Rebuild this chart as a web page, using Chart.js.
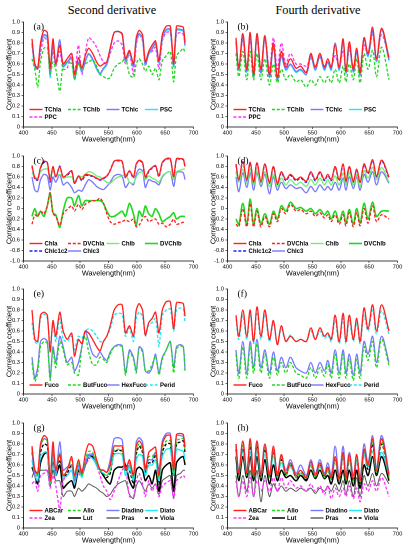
<!DOCTYPE html>
<html>
<head>
<meta charset="utf-8">
<script src="https://cdn.jsdelivr.net/npm/chart.js@4.4.1/dist/chart.umd.min.js"></script>
<style>
  body { margin: 0; background: #fff; width: 408px; height: 550px; position: relative; overflow: hidden; }
  .head { position: absolute; top: 3px; width: 204px; text-align: center; font: 12.3px "Liberation Serif", "Times New Roman", serif; color: #000; }
  canvas { position: absolute; }
</style>
</head>
<body>
<div class="head" style="left:10px">Second derivative</div>
<div class="head" style="left:216px">Fourth derivative</div>
<script>
// wavelengths (nm)
const wl2 = [415, 420, 425, 430, 436, 442, 447, 452, 457, 464, 470, 477, 485, 490, 497, 503, 509, 515, 522, 529, 535, 541, 547, 553, 560, 567, 574, 580, 587, 594, 599, 604, 610, 615, 621, 627, 633, 639, 645, 652, 659, 665, 670, 677, 682, 685];
const wl4 = [415, 420, 427, 434, 440, 446, 452, 459, 466, 474, 481, 488, 495, 503, 511, 521, 529, 539, 547, 555, 563, 571, 577, 583, 590, 597, 604, 609, 615, 622, 628, 634, 641, 648, 656, 663, 672, 685];

const xTickVals = [400, 450, 500, 550, 600, 650, 700];
const yTicksPos = [0, 0.1, 0.2, 0.3, 0.4, 0.5, 0.6, 0.7, 0.8, 0.9, 1];
const yTicksSigned = [-1, -0.8, -0.6, -0.4, -0.2, 0, 0.2, 0.4, 0.6, 0.8, 1];

// (a) second derivative, total pigments
const aTChla = [0.84,0.6,0.56,0.8,0.92,0.9,0.56,0.84,0.6,0.78,0.6,0.65,0.7,0.5,0.66,0.56,0.68,0.75,0.7,0.62,0.58,0.6,0.62,0.75,0.9,0.91,0.89,0.65,0.73,0.6,0.85,0.92,0.88,0.62,0.72,0.78,0.82,0.63,0.88,0.96,0.96,0.6,0.96,0.96,0.95,0.8];
const aTChlb = [0.65,0.55,0.38,0.62,0.75,0.76,0.5,0.62,0.55,0.34,0.6,0.62,0.6,0.45,0.6,0.55,0.6,0.62,0.64,0.58,0.5,0.48,0.46,0.47,0.56,0.6,0.62,0.66,0.5,0.47,0.6,0.65,0.6,0.53,0.58,0.5,0.56,0.45,0.63,0.68,0.72,0.43,0.68,0.72,0.75,0.7];
const aTChlc = [0.8,0.58,0.55,0.78,0.88,0.86,0.5,0.8,0.6,0.83,0.58,0.62,0.66,0.46,0.62,0.53,0.63,0.7,0.65,0.56,0.51,0.56,0.6,0.75,0.9,0.91,0.89,0.63,0.72,0.58,0.82,0.89,0.85,0.6,0.7,0.75,0.8,0.62,0.85,0.93,0.93,0.58,0.93,0.93,0.92,0.78];
const aPSC = [0.8,0.57,0.55,0.77,0.87,0.85,0.47,0.79,0.59,0.83,0.57,0.61,0.65,0.45,0.61,0.52,0.62,0.69,0.64,0.55,0.5,0.55,0.59,0.74,0.9,0.91,0.88,0.62,0.71,0.57,0.81,0.88,0.84,0.59,0.69,0.74,0.79,0.61,0.84,0.92,0.92,0.57,0.92,0.92,0.91,0.77];
const aPPC = [0.78,0.6,0.55,0.7,0.85,0.82,0.52,0.72,0.58,0.72,0.55,0.56,0.7,0.5,0.78,0.5,0.7,0.85,0.82,0.76,0.68,0.62,0.6,0.7,0.8,0.82,0.78,0.6,0.7,0.5,0.78,0.88,0.82,0.58,0.7,0.72,0.76,0.55,0.82,0.9,0.9,0.6,0.88,0.9,0.88,0.78];

// (b) fourth derivative, total pigments
const bTChla = [0.85,0.56,0.89,0.55,0.9,0.5,0.89,0.55,0.87,0.5,0.8,0.47,0.72,0.57,0.65,0.56,0.58,0.52,0.7,0.57,0.7,0.57,0.65,0.57,0.78,0.57,0.84,0.53,0.81,0.55,0.75,0.52,0.85,0.7,0.95,0.65,0.94,0.66];
const bTChlb = [0.7,0.48,0.72,0.45,0.72,0.45,0.7,0.45,0.65,0.4,0.6,0.42,0.55,0.45,0.5,0.43,0.45,0.38,0.45,0.4,0.48,0.42,0.48,0.42,0.55,0.42,0.58,0.43,0.6,0.45,0.65,0.42,0.7,0.55,0.73,0.48,0.76,0.45];
const bTChlc = [0.82,0.55,0.86,0.53,0.87,0.48,0.86,0.52,0.85,0.48,0.77,0.45,0.68,0.55,0.6,0.53,0.55,0.5,0.68,0.55,0.68,0.55,0.62,0.55,0.8,0.55,0.82,0.52,0.78,0.53,0.72,0.5,0.85,0.68,0.92,0.63,0.93,0.64];
const bPSC = [0.81,0.54,0.85,0.52,0.86,0.47,0.85,0.51,0.84,0.47,0.76,0.44,0.67,0.54,0.59,0.52,0.54,0.5,0.67,0.54,0.67,0.54,0.61,0.54,0.79,0.54,0.81,0.51,0.77,0.52,0.71,0.49,0.84,0.67,0.91,0.62,0.92,0.63];
const bPPC = [0.8,0.58,0.82,0.58,0.82,0.55,0.84,0.55,0.85,0.55,0.85,0.55,0.8,0.6,0.7,0.6,0.6,0.58,0.65,0.58,0.66,0.58,0.62,0.57,0.68,0.57,0.72,0.55,0.73,0.57,0.72,0.55,0.78,0.68,0.88,0.65,0.88,0.65];

// (c) second derivative, chlorophylls
const cChla = [0.82,0.58,0.55,0.78,0.9,0.88,0.52,0.8,0.6,0.8,0.6,0.65,0.72,0.48,0.62,0.55,0.65,0.64,0.62,0.58,0.55,0.58,0.62,0.72,0.9,0.92,0.9,0.6,0.72,0.6,0.85,0.92,0.88,0.6,0.72,0.78,0.82,0.62,0.88,0.95,0.95,0.6,0.95,0.95,0.94,0.8];
const cDVChla = [-0.3,-0.12,-0.15,-0.05,-0.1,0.05,0.3,-0.1,-0.15,-0.32,-0.1,-0.02,0.05,-0.05,0.08,-0.02,0.08,0.12,0.15,0.15,0.2,0.1,-0.1,-0.25,-0.3,-0.27,-0.25,-0.22,-0.25,-0.2,-0.35,-0.32,-0.2,-0.15,-0.25,-0.22,-0.2,-0.3,-0.28,-0.35,-0.3,-0.2,-0.3,-0.28,-0.26,-0.25];
const cChlb = [0.68,0.6,0.58,0.7,0.75,0.75,0.62,0.72,0.62,0.65,0.58,0.6,0.6,0.5,0.62,0.6,0.65,0.7,0.68,0.62,0.6,0.55,0.5,0.48,0.55,0.6,0.62,0.66,0.5,0.48,0.6,0.68,0.7,0.55,0.62,0.58,0.55,0.5,0.62,0.68,0.7,0.55,0.7,0.73,0.75,0.75];
const cDVChlb = [-0.15,0,-0.15,-0.05,-0.15,0.05,0.3,-0.08,-0.12,-0.36,-0.05,0.2,0.2,0.05,0.25,0.05,0.15,0.15,0.15,0.15,0.15,0.1,-0.05,-0.15,-0.15,-0.1,-0.05,-0.15,0.1,-0.1,-0.33,-0.05,-0.15,0.05,-0.1,-0.15,0,-0.1,-0.25,-0.2,-0.15,-0.08,-0.2,-0.15,-0.15,-0.15];
const cChlc1c2 = [0.8,0.56,0.54,0.77,0.88,0.87,0.5,0.79,0.59,0.81,0.58,0.63,0.7,0.47,0.61,0.53,0.63,0.63,0.61,0.57,0.54,0.57,0.61,0.73,0.9,0.91,0.89,0.58,0.71,0.58,0.84,0.91,0.87,0.58,0.7,0.77,0.81,0.6,0.87,0.94,0.94,0.58,0.94,0.94,0.93,0.79];
const cChlc3 = [0.6,0.35,0.32,0.55,0.65,0.62,0.35,0.6,0.5,0.65,0.45,0.5,0.4,0.3,0.35,0.33,0.45,0.55,0.5,0.42,0.38,0.36,0.42,0.5,0.62,0.65,0.62,0.4,0.5,0.45,0.65,0.75,0.72,0.4,0.55,0.52,0.5,0.45,0.6,0.68,0.7,0.42,0.68,0.7,0.68,0.55];

// (d) fourth derivative, chlorophylls
const dChla = [0.85,0.55,0.9,0.55,0.88,0.5,0.87,0.52,0.85,0.5,0.8,0.48,0.7,0.55,0.65,0.55,0.6,0.52,0.7,0.55,0.7,0.55,0.65,0.55,0.8,0.55,0.85,0.52,0.8,0.52,0.75,0.5,0.85,0.68,0.93,0.62,0.92,0.6];
const dDVChla = [-0.3,-0.35,0,-0.35,0.1,-0.35,-0.05,-0.35,-0.15,-0.35,-0.1,-0.25,0,-0.1,0.08,-0.05,-0.02,-0.1,-0.05,-0.15,-0.08,-0.18,-0.12,-0.25,-0.12,-0.3,-0.12,-0.33,-0.08,-0.35,-0.08,-0.33,0,-0.28,0.05,-0.25,-0.12,-0.2];
const dChlb = [0.7,0.5,0.75,0.48,0.75,0.45,0.72,0.46,0.7,0.42,0.65,0.42,0.58,0.45,0.55,0.45,0.5,0.42,0.55,0.45,0.58,0.45,0.55,0.45,0.62,0.45,0.68,0.45,0.68,0.45,0.65,0.42,0.72,0.58,0.78,0.55,0.78,0.5];
const dDVChlb = [-0.2,-0.3,0.1,-0.3,0.18,-0.3,0,-0.3,-0.1,-0.3,-0.05,-0.2,0.05,-0.05,0.12,0,0.02,-0.05,0,-0.1,-0.02,-0.12,-0.05,-0.2,-0.05,-0.25,-0.05,-0.28,-0.02,-0.3,0,-0.28,0.1,-0.2,0.12,-0.15,-0.05,-0.05];
const dChlc1c2 = [0.83,0.53,0.88,0.53,0.86,0.48,0.85,0.5,0.83,0.48,0.78,0.46,0.68,0.53,0.63,0.53,0.58,0.5,0.68,0.53,0.68,0.53,0.63,0.53,0.78,0.53,0.83,0.5,0.78,0.5,0.73,0.48,0.83,0.66,0.91,0.6,0.9,0.58];
const dChlc3 = [0.6,0.32,0.68,0.4,0.68,0.35,0.68,0.42,0.65,0.28,0.6,0.35,0.5,0.38,0.45,0.38,0.4,0.3,0.42,0.32,0.45,0.35,0.42,0.35,0.5,0.35,0.58,0.35,0.6,0.38,0.6,0.35,0.65,0.5,0.7,0.45,0.7,0.48];

// (e) second derivative, fucoxanthins
const eFuco = [0.8,0.52,0.5,0.75,0.78,0.75,0.4,0.7,0.55,0.78,0.6,0.52,0.58,0.36,0.52,0.48,0.6,0.58,0.52,0.45,0.41,0.5,0.55,0.65,0.8,0.85,0.85,0.58,0.65,0.55,0.8,0.86,0.8,0.56,0.68,0.72,0.78,0.58,0.8,0.88,0.88,0.62,0.87,0.87,0.86,0.74];
const eButFuco = [0.3,0.12,0.2,0.45,0.5,0.48,0.13,0.42,0.25,0.5,0.42,0.28,0.3,0.2,0.18,0.45,0.55,0.4,0.28,0.28,0.35,0.33,0.3,0.38,0.45,0.46,0.45,0.18,0.4,0.33,0.2,0.44,0.4,0.22,0.22,0.28,0.36,0.18,0.33,0.42,0.5,0.2,0.43,0.46,0.44,0.22];
const eHexFuco = [0.35,0.15,0.25,0.5,0.53,0.5,0.15,0.45,0.3,0.55,0.45,0.3,0.35,0.22,0.3,0.45,0.6,0.5,0.38,0.35,0.4,0.35,0.32,0.4,0.45,0.47,0.46,0.2,0.42,0.35,0.22,0.45,0.42,0.22,0.2,0.25,0.38,0.2,0.35,0.42,0.5,0.25,0.45,0.47,0.45,0.23];
const ePerid = [0.68,0.5,0.48,0.72,0.76,0.72,0.45,0.66,0.5,0.72,0.52,0.5,0.55,0.42,0.55,0.53,0.6,0.62,0.6,0.55,0.5,0.5,0.55,0.62,0.75,0.77,0.76,0.55,0.63,0.5,0.72,0.78,0.74,0.55,0.66,0.68,0.72,0.45,0.75,0.8,0.81,0.6,0.8,0.82,0.81,0.68];

// (f) fourth derivative, fucoxanthins
const fFuco = [0.75,0.55,0.8,0.55,0.8,0.5,0.83,0.55,0.8,0.52,0.7,0.47,0.65,0.5,0.55,0.5,0.52,0.5,0.63,0.52,0.63,0.55,0.58,0.52,0.75,0.5,0.77,0.5,0.75,0.52,0.72,0.5,0.82,0.62,0.85,0.6,0.85,0.6];
const fButFuco = [0.38,0.15,0.45,0.15,0.45,0.2,0.48,0.2,0.38,0.15,0.35,0.18,0.3,0.2,0.3,0.2,0.18,0.15,0.25,0.15,0.25,0.17,0.28,0.15,0.38,0.15,0.38,0.15,0.33,0.13,0.33,0.15,0.45,0.32,0.5,0.25,0.52,0.27];
const fHexFuco = [0.42,0.2,0.5,0.2,0.5,0.25,0.52,0.25,0.42,0.2,0.4,0.22,0.35,0.25,0.35,0.25,0.22,0.2,0.3,0.2,0.3,0.22,0.32,0.2,0.42,0.2,0.42,0.2,0.38,0.18,0.38,0.2,0.5,0.38,0.55,0.3,0.55,0.3];
const fPerid = [0.72,0.52,0.75,0.52,0.76,0.48,0.78,0.52,0.76,0.5,0.68,0.47,0.62,0.5,0.56,0.5,0.52,0.5,0.6,0.52,0.6,0.53,0.56,0.5,0.7,0.48,0.72,0.48,0.7,0.5,0.68,0.48,0.75,0.6,0.8,0.57,0.79,0.57];

// (g) second derivative, carotenoids
const gABCar = [0.78,0.55,0.52,0.8,0.88,0.85,0.45,0.82,0.55,0.7,0.5,0.55,0.68,0.5,0.65,0.52,0.7,0.8,0.78,0.65,0.56,0.55,0.53,0.6,0.78,0.78,0.78,0.55,0.65,0.5,0.78,0.83,0.78,0.55,0.72,0.75,0.77,0.5,0.8,0.88,0.88,0.55,0.89,0.9,0.89,0.77];
const gAllo = [0.76,0.55,0.5,0.78,0.85,0.83,0.42,0.8,0.55,0.7,0.5,0.55,0.65,0.48,0.62,0.5,0.65,0.73,0.72,0.62,0.55,0.52,0.5,0.55,0.74,0.75,0.74,0.55,0.62,0.48,0.74,0.8,0.75,0.55,0.68,0.68,0.72,0.48,0.76,0.83,0.83,0.5,0.83,0.85,0.85,0.74];
const gDiadino = [0.75,0.5,0.5,0.78,0.85,0.83,0.45,0.75,0.52,0.82,0.55,0.58,0.6,0.45,0.6,0.5,0.62,0.7,0.7,0.62,0.55,0.55,0.53,0.65,0.85,0.86,0.84,0.55,0.6,0.5,0.82,0.86,0.82,0.58,0.65,0.65,0.72,0.55,0.83,0.9,0.9,0.58,0.88,0.88,0.87,0.8];
const gDiato = [0.65,0.5,0.45,0.68,0.72,0.72,0.42,0.68,0.5,0.72,0.48,0.5,0.55,0.42,0.58,0.48,0.62,0.68,0.66,0.6,0.55,0.52,0.5,0.55,0.7,0.71,0.7,0.5,0.58,0.45,0.65,0.7,0.68,0.5,0.6,0.6,0.65,0.45,0.68,0.75,0.75,0.5,0.75,0.74,0.73,0.65];
const gZea = [0.42,0.45,0.35,0.5,0.52,0.55,0.38,0.5,0.4,0.18,0.45,0.5,0.55,0.5,0.5,0.55,0.6,0.65,0.7,0.6,0.5,0.4,0.35,0.27,0.35,0.45,0.55,0.58,0.3,0.3,0.45,0.52,0.42,0.3,0.45,0.35,0.42,0.3,0.4,0.43,0.45,0.28,0.45,0.48,0.5,0.48];
const gLut = [0.58,0.5,0.42,0.62,0.7,0.72,0.42,0.65,0.5,0.6,0.38,0.42,0.45,0.38,0.55,0.5,0.6,0.68,0.68,0.6,0.55,0.5,0.45,0.42,0.55,0.58,0.58,0.6,0.45,0.38,0.55,0.58,0.55,0.45,0.5,0.42,0.55,0.35,0.55,0.6,0.62,0.35,0.62,0.67,0.68,0.6];
const gPras = [0.48,0.55,0.52,0.55,0.55,0.55,0.4,0.55,0.45,0.45,0.3,0.35,0.35,0.3,0.38,0.35,0.38,0.42,0.4,0.38,0.35,0.33,0.3,0.32,0.38,0.42,0.44,0.45,0.32,0.28,0.4,0.45,0.4,0.35,0.42,0.38,0.42,0.32,0.45,0.48,0.5,0.28,0.5,0.52,0.55,0.55];
const gViola = [0.72,0.55,0.5,0.72,0.8,0.78,0.4,0.75,0.52,0.65,0.48,0.52,0.6,0.45,0.6,0.5,0.62,0.7,0.7,0.62,0.55,0.5,0.48,0.52,0.72,0.74,0.73,0.6,0.55,0.42,0.7,0.78,0.72,0.52,0.62,0.62,0.7,0.42,0.72,0.8,0.8,0.5,0.8,0.82,0.83,0.72];

// (h) fourth derivative, carotenoids
const hABCar = [0.8,0.52,0.83,0.52,0.85,0.5,0.83,0.5,0.8,0.5,0.78,0.5,0.7,0.52,0.62,0.5,0.55,0.48,0.63,0.5,0.62,0.5,0.58,0.48,0.68,0.47,0.72,0.47,0.7,0.47,0.7,0.45,0.75,0.6,0.85,0.55,0.85,0.5];
const hAllo = [0.78,0.5,0.8,0.5,0.82,0.48,0.8,0.48,0.78,0.48,0.75,0.48,0.68,0.5,0.6,0.48,0.53,0.47,0.6,0.48,0.6,0.48,0.56,0.47,0.65,0.45,0.7,0.45,0.68,0.45,0.68,0.43,0.72,0.58,0.82,0.53,0.82,0.48];
const hDiadino = [0.8,0.55,0.82,0.55,0.82,0.52,0.83,0.52,0.8,0.52,0.75,0.52,0.68,0.55,0.65,0.52,0.6,0.5,0.65,0.52,0.65,0.52,0.62,0.5,0.78,0.5,0.78,0.5,0.72,0.5,0.7,0.48,0.8,0.62,0.88,0.58,0.88,0.52];
const hDiato = [0.72,0.52,0.72,0.52,0.72,0.5,0.72,0.5,0.7,0.5,0.68,0.5,0.62,0.52,0.58,0.5,0.52,0.48,0.6,0.5,0.58,0.5,0.55,0.48,0.65,0.48,0.68,0.48,0.65,0.48,0.65,0.46,0.7,0.58,0.73,0.55,0.72,0.5];
const hZea = [0.45,0.3,0.45,0.3,0.48,0.3,0.45,0.35,0.45,0.35,0.48,0.35,0.48,0.38,0.45,0.38,0.4,0.35,0.42,0.35,0.4,0.32,0.4,0.28,0.38,0.3,0.38,0.3,0.4,0.28,0.38,0.25,0.42,0.35,0.45,0.35,0.48,0.3];
const hLut = [0.68,0.45,0.68,0.48,0.68,0.45,0.68,0.45,0.65,0.42,0.6,0.45,0.55,0.48,0.5,0.45,0.5,0.45,0.55,0.47,0.55,0.47,0.5,0.42,0.55,0.42,0.55,0.42,0.55,0.4,0.55,0.38,0.6,0.5,0.68,0.5,0.68,0.45];
const hPras = [0.5,0.3,0.5,0.35,0.55,0.3,0.55,0.25,0.5,0.3,0.42,0.35,0.4,0.35,0.38,0.35,0.38,0.35,0.38,0.33,0.38,0.35,0.4,0.35,0.42,0.35,0.45,0.32,0.45,0.3,0.48,0.3,0.5,0.4,0.52,0.4,0.52,0.42];
const hViola = [0.75,0.5,0.75,0.5,0.78,0.48,0.78,0.48,0.75,0.48,0.72,0.48,0.65,0.5,0.6,0.48,0.52,0.46,0.6,0.48,0.6,0.48,0.55,0.46,0.65,0.45,0.68,0.45,0.65,0.45,0.65,0.43,0.7,0.56,0.8,0.52,0.8,0.47];

const RED = '#ff1f1f', GREEN = '#1fd81f', VIOLET = '#7878ff', CYAN = '#1ee8f5',
      MAGENTA = '#ff30ff', LGREEN = '#70f070', BLUE = '#1f1fff', BLACK = '#000', GRAY = '#5a5a5a';
const SANS = '"Liberation Sans", Arial, sans-serif';
const SERIF = '"Liberation Serif", "Times New Roman", serif';

// legend + panel tag drawn inside the plot box, like the MATLAB figure
const insideLegend = {
  id: 'insideLegend',
  afterDatasetsDraw(chart, args, opts) {
    const ctx = chart.ctx, a = chart.chartArea;
    ctx.save();
    ctx.font = 'bold 6px ' + SANS;
    ctx.textBaseline = 'middle';
    chart.data.datasets.forEach((ds, i) => {
      const r = Math.floor(i / 4), c = i % 4;
      const x = a.left + 6 + c * 38.5;
      const y = a.bottom - opts.rows[r];
      ctx.strokeStyle = ds.borderColor;
      ctx.lineWidth = Math.max(ds.borderWidth, 1.4);
      ctx.setLineDash(ds.borderDash || []);
      ctx.beginPath();
      ctx.moveTo(x, y);
      ctx.lineTo(x + 13, y);
      ctx.stroke();
      ctx.fillStyle = '#000';
      ctx.fillText(ds.label, x + 15, y + 0.3);
    });
    ctx.setLineDash([]);
    ctx.font = '9.5px ' + SERIF;
    ctx.fillText(opts.tag, a.left + 10, a.top + 5);
    ctx.restore();
  }
};

function line(label, data, color, dash, width) {
  return { label, data, color, dash, width };
}

function panel(tag, col, row, wl, series, yTicks, rows) {
  const chartTop = [22, 156, 289, 423][row];
  const cv = document.createElement('canvas');
  cv.width = 204; cv.height = 129;
  cv.style.left = (col * 204) + 'px';
  cv.style.top = (chartTop - 8) + 'px';
  document.body.appendChild(cv);
  const tension = wl === wl4 ? 0.35 : 0.25;

  new Chart(cv, {
    type: 'line',
    data: {
      datasets: series.map(s => ({
        label: s.label,
        data: wl.map((w, i) => ({ x: w, y: s.data[i] })),
        borderColor: s.color,
        borderWidth: s.width || 1.3,
        borderDash: s.dash ? [3, 1.8] : [],
        pointRadius: 0,
        tension: tension,
        fill: false
      }))
    },
    options: {
      responsive: false,
      animation: false,
      devicePixelRatio: 2,
      layout: { padding: { left: 0, right: 10.5, top: 8, bottom: 0 } },
      plugins: {
        legend: { display: false },
        tooltip: { enabled: false },
        insideLegend: { tag: tag, rows: rows }
      },
      scales: {
        x: {
          type: 'linear',
          min: xTickVals[0], max: xTickVals[xTickVals.length - 1],
          afterBuildTicks: s => { s.ticks = xTickVals.map(v => ({ value: v })); },
          afterFit: s => { s.height = 16; },
          grid: { display: true, drawOnChartArea: false, tickLength: 2, color: '#000', lineWidth: 0.6 },
          border: { display: true, color: '#000', width: 0.8 },
          ticks: { font: { family: SANS, size: 5.8 }, color: '#000', padding: 0.5, maxRotation: 0, autoSkip: false },
          title: { display: true, text: 'Wavelength(nm)', font: { family: SANS, size: 7.3, lineHeight: 1 }, color: '#000', padding: { top: 0, bottom: 0 } }
        },
        y: {
          min: yTicks[0], max: yTicks[yTicks.length - 1],
          afterBuildTicks: s => { s.ticks = yTicks.map(v => ({ value: v })); },
          afterFit: s => { s.width = 23.5; },
          grid: { display: true, drawOnChartArea: false, tickLength: 2, color: '#000', lineWidth: 0.6 },
          border: { display: true, color: '#000', width: 0.8 },
          ticks: { font: { family: SANS, size: 5.8 }, color: '#000', padding: 1.5, autoSkip: false },
          title: { display: true, text: 'Correlation coefficient', font: { family: SANS, size: 7.4, lineHeight: 1 }, color: '#000', padding: { top: 5.6, bottom: 0 } }
        }
      }
    },
    plugins: [insideLegend]
  });
}

const twoRows = [17.5, 10];
const oneRow = [9];

panel('(a)', 0, 0, wl2, [
  line('TChla', aTChla, RED), line('TChlb', aTChlb, GREEN, true), line('TChlc', aTChlc, VIOLET),
  line('PSC', aPSC, CYAN), line('PPC', aPPC, MAGENTA, true)
], yTicksPos, twoRows);
panel('(b)', 1, 0, wl4, [
  line('TChla', bTChla, RED), line('TChlb', bTChlb, GREEN, true), line('TChlc', bTChlc, VIOLET),
  line('PSC', bPSC, CYAN), line('PPC', bPPC, MAGENTA, true)
], yTicksPos, twoRows);
panel('(c)', 0, 1, wl2, [
  line('Chla', cChla, RED), line('DVChla', cDVChla, RED, true), line('Chlb', cChlb, LGREEN),
  line('DVChlb', cDVChlb, GREEN, false, 1.6), line('Chlc1c2', cChlc1c2, BLUE, true), line('Chlc3', cChlc3, VIOLET)
], yTicksSigned, twoRows);
panel('(d)', 1, 1, wl4, [
  line('Chla', dChla, RED), line('DVChla', dDVChla, RED, true), line('Chlb', dChlb, LGREEN),
  line('DVChlb', dDVChlb, GREEN, false, 1.6), line('Chlc1c2', dChlc1c2, BLUE, true), line('Chlc3', dChlc3, VIOLET)
], yTicksSigned, twoRows);
panel('(e)', 0, 2, wl2, [
  line('Fuco', eFuco, RED), line('ButFuco', eButFuco, GREEN, true), line('HexFuco', eHexFuco, VIOLET),
  line('Perid', ePerid, CYAN, true)
], yTicksPos, oneRow);
panel('(f)', 1, 2, wl4, [
  line('Fuco', fFuco, RED), line('ButFuco', fButFuco, GREEN, true), line('HexFuco', fHexFuco, VIOLET),
  line('Perid', fPerid, CYAN, true)
], yTicksPos, oneRow);
panel('(g)', 0, 3, wl2, [
  line('ABCar', gABCar, RED), line('Allo', gAllo, GREEN, true), line('Diadino', gDiadino, VIOLET),
  line('Diato', gDiato, CYAN), line('Zea', gZea, MAGENTA, true), line('Lut', gLut, BLACK, false, 1.5),
  line('Pras', gPras, GRAY, false, 1), line('Viola', gViola, BLACK, true)
], yTicksPos, twoRows);
panel('(h)', 1, 3, wl4, [
  line('ABCar', hABCar, RED), line('Allo', hAllo, GREEN, true), line('Diadino', hDiadino, VIOLET),
  line('Diato', hDiato, CYAN), line('Zea', hZea, MAGENTA, true), line('Lut', hLut, BLACK, false, 1.5),
  line('Pras', hPras, GRAY, false, 1), line('Viola', hViola, BLACK, true)
], yTicksPos, twoRows);
</script>
</body>
</html>
